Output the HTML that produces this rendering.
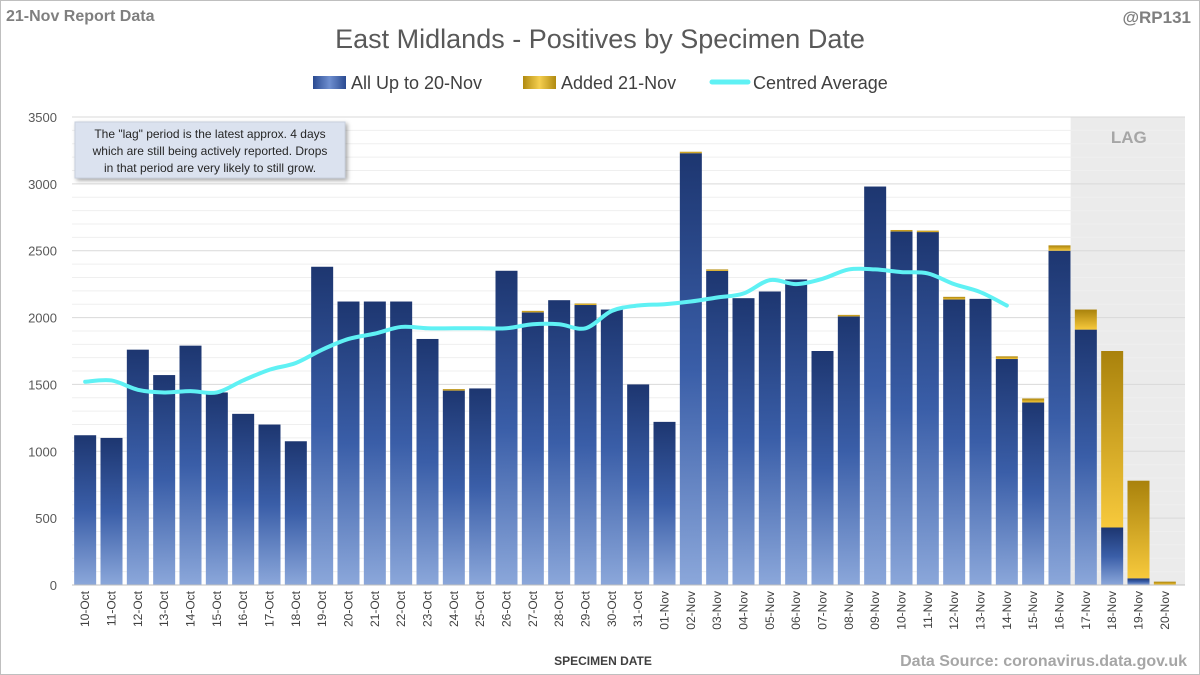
<!DOCTYPE html>
<html><head><meta charset="utf-8"><style>
html,body{margin:0;padding:0;background:#fff;}
svg{display:block;font-family:"Liberation Sans",sans-serif;}
</style></head><body>
<svg id="c" width="1200" height="675" viewBox="0 0 1200 675">
<defs>
<linearGradient id="gb" x1="0" y1="0" x2="0" y2="1"><stop offset="0" stop-color="#1d3670"/><stop offset="0.5" stop-color="#3a5ea8"/><stop offset="1" stop-color="#8ba7da"/></linearGradient>
<linearGradient id="gg" x1="0" y1="0" x2="0" y2="1"><stop offset="0" stop-color="#a9820c"/><stop offset="1" stop-color="#f7c93c"/></linearGradient>
<linearGradient id="gbh" x1="0" y1="0" x2="1" y2="0"><stop offset="0" stop-color="#2a4a90"/><stop offset="0.5" stop-color="#6f8fd0"/><stop offset="1" stop-color="#2a4a90"/></linearGradient>
<linearGradient id="ggh" x1="0" y1="0" x2="1" y2="0"><stop offset="0" stop-color="#b08a10"/><stop offset="0.5" stop-color="#f5cf50"/><stop offset="1" stop-color="#b08a10"/></linearGradient>
</defs>
<rect x="0.5" y="0.5" width="1199" height="674" fill="#fff" stroke="#bfbfbf"/>
<text x="6" y="21" font-size="16" font-weight="bold" fill="#7f7f7f">21-Nov Report Data</text>
<text x="1191" y="23" font-size="17" font-weight="bold" fill="#7f7f7f" text-anchor="end">@RP131</text>
<text x="600" y="48" font-size="27" fill="#595959" text-anchor="middle">East Midlands - Positives by Specimen Date</text>
<g>
<rect x="313" y="76" width="33" height="13" fill="url(#gbh)"/>
<text x="351" y="89" font-size="18" fill="#404040">All Up to 20-Nov</text>
<rect x="523" y="76" width="33" height="13" fill="url(#ggh)"/>
<text x="561" y="89" font-size="18" fill="#404040">Added 21-Nov</text>
<line x1="712" y1="82" x2="748" y2="82" stroke="#5ff1f4" stroke-width="5" stroke-linecap="round"/>
<text x="753" y="89" font-size="18" fill="#404040">Centred Average</text>
</g>
<g id="plot"></g>
<text x="603" y="665" font-size="12" font-weight="bold" fill="#404040" text-anchor="middle">SPECIMEN DATE</text>
<text x="1187" y="666" font-size="16" font-weight="bold" fill="#a6a6a6" text-anchor="end">Data Source: coronavirus.data.gov.uk</text>
</svg>
<script>
const categories=["10-Oct","11-Oct","12-Oct","13-Oct","14-Oct","15-Oct","16-Oct","17-Oct","18-Oct","19-Oct","20-Oct","21-Oct","22-Oct","23-Oct","24-Oct","25-Oct","26-Oct","27-Oct","28-Oct","29-Oct","30-Oct","31-Oct","01-Nov","02-Nov","03-Nov","04-Nov","05-Nov","06-Nov","07-Nov","08-Nov","09-Nov","10-Nov","11-Nov","12-Nov","13-Nov","14-Nov","15-Nov","16-Nov","17-Nov","18-Nov","19-Nov","20-Nov"];
const baseValues=[1120,1100,1760,1570,1790,1440,1280,1200,1075,2380,2120,2120,2120,1840,1455,1470,2350,2040,2130,2095,2060,1500,1220,3230,2350,2145,2195,2285,1750,2010,2980,2645,2640,2135,2140,1690,1365,2500,1910,430,50,0];
const addedValues=[0,0,0,0,0,0,0,0,0,0,0,0,0,0,10,0,0,10,0,10,0,0,0,10,10,0,0,0,0,10,0,10,10,20,0,20,30,40,150,1320,730,25];
const avgValues=[1520,1530,1460,1440,1450,1440,1530,1610,1660,1760,1840,1880,1930,1920,1920,1920,1920,1950,1950,1920,2050,2090,2100,2120,2150,2180,2280,2250,2290,2360,2360,2340,2330,2250,2190,2090];
const yTicks=[0,500,1000,1500,2000,2500,3000,3500];
const lagStartIndex=38;
</script>
<script>
const NS="http://www.w3.org/2000/svg";
const plot=document.getElementById('plot');
const X0=72,X1=1178,Y0=585,Y1=117,YMAX=3500;
const n=categories.length, step=(X1-X0)/n;
const y=v=>Y0-(v/YMAX)*(Y0-Y1);
const xc=i=>X0+step*(i+0.5);
function mk(t,a){const e=document.createElementNS(NS,t);for(const k in a)e.setAttribute(k,a[k]);plot.appendChild(e);return e;}
let lag=mk('rect',{x:X0+step*lagStartIndex-2,y:Y1,width:1185-(X0+step*lagStartIndex)+2,height:Y0-Y1,fill:'#ebebeb'});


let lt=mk('text',{x:(X0+step*lagStartIndex+1185)/2,y:Y1+26,'font-size':17,'font-weight':'bold',fill:'#a6a6a6','text-anchor':'middle'});lt.textContent='LAG';


for(let v=0;v<=YMAX;v+=100){let g=mk('line',{x1:X0,x2:1185,y1:y(v),y2:y(v),stroke:v%500===0?'#d9d9d9':'#efefef','stroke-width':1});

}
yTicks.forEach(v=>{let t=mk('text',{x:57,y:y(v)+5,'font-size':13,fill:'#595959','text-anchor':'end'});t.textContent=v;

});
const bw=22;
categories.forEach((c,i)=>{
 const b=baseValues[i],a=addedValues[i];
 if(b>0){let r=mk('rect',{x:xc(i)-bw/2,y:y(b),width:bw,height:Y0-y(b),fill:'url(#gb)'});
 
 }
 if(a>0){let r=mk('rect',{x:xc(i)-bw/2,y:y(b+a),width:bw,height:Math.max(y(b)-y(b+a),1.5),fill:'url(#gg)'});
 
 }
 let t=mk('text',{x:0,y:0,'font-size':12,fill:'#404040','text-anchor':'end',transform:`translate(${xc(i)+4},${Y0+6}) rotate(-90)`});t.textContent=c;
 
 
});
let ax=mk('line',{x1:X0,x2:1185,y1:Y0,y2:Y0,stroke:'#bfbfbf'});


const pts=avgValues.map((v,i)=>[xc(i),y(v)]);
let d='M'+pts[0][0]+','+pts[0][1];
for(let i=0;i<pts.length-1;i++){const p0=pts[i-1]||pts[i],p1=pts[i],p2=pts[i+1],p3=pts[i+2]||p2;
 d+=` C${p1[0]+(p2[0]-p0[0])/6},${p1[1]+(p2[1]-p0[1])/6} ${p2[0]-(p3[0]-p1[0])/6},${p2[1]-(p3[1]-p1[1])/6} ${p2[0]},${p2[1]}`;}
let ln=mk('path',{d:d,fill:'none',stroke:'#5ff1f4','stroke-width':4,'stroke-linecap':'round'});


let bx=mk('rect',{x:75,y:122,width:270,height:56,fill:'#dbe2ef',stroke:'#c8d0de'});
bx.setAttribute('style','filter:drop-shadow(2px 2px 2px rgba(0,0,0,0.35))');


["The \"lag\" period is the latest approx. 4 days","which are still being actively reported.  Drops","in that period are very likely to still grow."].forEach((s,k)=>{
 let t=mk('text',{x:210,y:138+k*17,'font-size':12,fill:'#262626','text-anchor':'middle'});t.textContent=s;
 
 });
</script>
</body></html>
